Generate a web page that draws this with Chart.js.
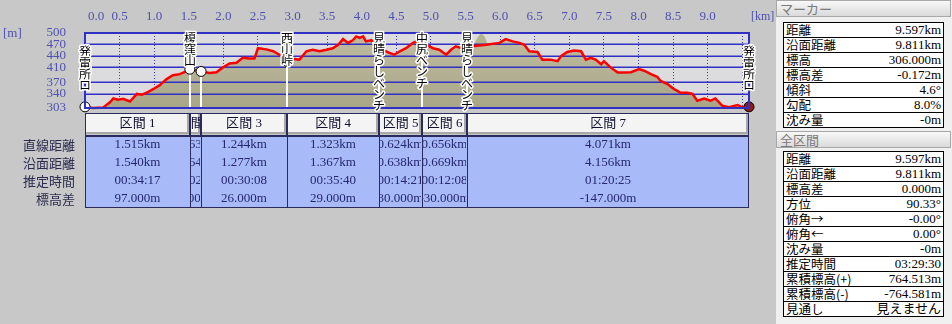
<!DOCTYPE html>
<html>
<head>
<meta charset="utf-8">
<script src="https://cdn.jsdelivr.net/npm/chart.js@4.4.0/dist/chart.umd.min.js"></script>
<style>
  body { margin: 0; width: 952px; height: 324px; overflow: hidden; position: relative; background: #c8c8c8; }
  #wrap { position: absolute; left: 0; top: 0; width: 776px; height: 324px; }
  #panel { position: absolute; left: 776px; top: 0; width: 176px; height: 324px; background: #f0f0f0; }
  .hd { position: absolute; left: 0; width: 175px; height: 17px; box-sizing: border-box; border: 1px solid #a8a8a8;
        background: linear-gradient(#f8f8f8, #dadada); color: #7a7a7a; font: 13px "Noto Sans CJK JP"; line-height: 15px; padding-left: 3px; }
  table { position: absolute; left: 7px; width: 161px; border-collapse: collapse; background: #fff;
          font: 13px "Liberation Serif", "Noto Sans CJK JP", serif; color: #000; }
  td { border-top: 1px solid #000; border-bottom: 1px solid #000; padding: 0 2px; white-space: nowrap; height: 14px; line-height: 14px; }
  td.l { border-left: 1px solid #000; font-family: "Noto Sans CJK JP"; font-size: 12.5px; }
  td.v { border-right: 1px solid #000; text-align: right; }
</style>
</head>
<body>
<div id="wrap"><canvas id="c" width="776" height="324"></canvas></div>
<div id="panel">
  <div class="hd" style="top:0">マーカー</div>
  <table id="t1" style="top:22px"></table>
  <div class="hd" style="top:131px">全区間</div>
  <table id="t2" style="top:151px"></table>
</div>
<script>
// profile (km along route, elevation m)
const distKm = [0,0.05,0.12,0.26,0.36,0.41,0.48,0.55,0.65,0.75,0.82,0.89,0.99,1.08,1.18,1.27,1.37,1.47,1.515,1.59,
  1.678,1.80,1.90,1.99,2.09,2.19,2.28,2.38,2.45,2.50,2.62,2.72,2.81,2.922,3.01,3.10,3.20,3.29,3.39,3.49,
  3.58,3.66,3.73,3.80,3.87,3.92,3.97,4.02,4.06,4.14,4.245,4.30,4.40,4.47,4.55,4.64,4.74,4.869,4.93,5.03,
  5.12,5.22,5.29,5.36,5.525,5.60,5.80,5.99,6.08,6.18,6.28,6.35,6.42,6.54,6.61,6.73,6.83,6.88,6.97,7.07,
  7.17,7.24,7.31,7.38,7.46,7.50,7.60,7.70,7.79,7.89,8.01,8.08,8.18,8.27,8.32,8.42,8.51,8.61,8.71,8.78,
  8.85,8.95,9.04,9.11,9.21,9.31,9.43,9.50,9.597];
const elevM = [306,304,303,304,318,328,325,327,320,340,338,343,353,363,379,389,392,400,405,402,
  399,395,397,409,420,422,435,433,433,460,457,452,443,426,432,430,452,456,452,456,
  460,469,484,474,481,491,487,491,478,481,455,456,448,443,452,460,474,484,469,460,
  456,443,456,465,455,465,469,474,484,478,474,469,452,450,430,430,426,439,450,454,
  452,430,435,430,418,426,409,396,396,397,405,401,392,385,374,366,353,343,343,340,
  322,328,322,328,309,305,311,305,306];
// terrain hump showing behind the route near 5.7 km
const humpKm = [5.62,5.68,5.72,5.77,5.82];
const humpM = [467,490,497,492,469];

// waypoints
const wpKm = [0,1.515,1.678,2.922,4.245,4.869,5.525,9.597];
const wpElev = [306,405,399,426,455,484,455,306];
const wpName = ['発電所ロ','榎窪山','','西山峠','見晴らしベンチ','中尻ベンチ','見晴らしベンチ','発電所ロ'];

// axes
const xTicks = [0,0.5,1,1.5,2,2.5,3,3.5,4,4.5,5,5.5,6,6.5,7,7.5,8,8.5,9,9.5];
const xTickLabels = ['0.0','0.5','1.0','1.5','2.0','2.5','3.0','3.5','4.0','4.5','5.0','5.5','6.0','6.5','7.0','7.5','8.0','8.5','9.0',''];
const yTicks = [500,470,440,410,370,340,303];

// section table
const rowLabels = ['直線距離','沿面距離','推定時間','標高差'];
const secName = ['区間 1','区間 2','区間 3','区間 4','区間 5','区間 6','区間 7'];
const secStraight = ['1.515km','0.163km','1.244km','1.323km','0.624km','0.656km','4.071km'];
const secSurface = ['1.540km','0.164km','1.277km','1.367km','0.638km','0.669km','4.156km'];
const secTime = ['00:34:17','00:02:31','00:30:08','00:35:40','00:14:21','00:12:08','01:20:25'];
const secElev = ['97.000m','-5.000m','26.000m','29.000m','30.000m','-30.000m','-147.000m'];

// side panel
const markerLabels = ['距離','沿面距離','標高','標高差','傾斜','勾配','沈み量'];
const markerValues = ['9.597km','9.811km','306.000m','-0.172m','4.6°','8.0%','-0m'];
const totalLabels = ['距離','沿面距離','標高差','方位','俯角→','俯角←','沈み量','推定時間','累積標高(+)','累積標高(-)','見通し'];
const totalValues = ['9.597km','9.811km','0.000m','90.33°','-0.00°','0.00°','-0m','03:29:30','764.513m','-764.581m','見えません'];

function fillTable(id, labels, values) {
  const t = document.getElementById(id);
  labels.forEach((l, i) => {
    const tr = t.insertRow();
    const a = tr.insertCell(); a.className = 'l'; a.textContent = l;
    const b = tr.insertCell(); b.className = 'v'; b.textContent = values[i];
  });
}
fillTable('t1', markerLabels, markerValues);
fillTable('t2', totalLabels, totalValues);

const BLUE = '#3030c4';
const LBL = '#5050b0';
const NUMFONT = '13px "Liberation Serif", "Noto Sans CJK JP", serif';

const route = distKm.map((d, i) => ({ x: d, y: elevM[i] }));

const profilePlugin = {
  id: 'profile',
  beforeDraw(chart) {
    const { ctx, chartArea: a } = chart;
    ctx.save();
    ctx.fillStyle = '#dcdcde';
    ctx.fillRect(a.left, a.top, a.right - a.left, a.bottom - a.top);
    ctx.restore();
  },
  afterDatasetDraw(chart, args) {
    if (args.index !== 2) return;
    const { ctx, chartArea: a, scales } = chart;
    ctx.save();
    // horizontal grid sits on top of the ground fill
    ctx.strokeStyle = BLUE;
    ctx.lineWidth = 1.5;
    yTicks.forEach(v => {
      const y = Math.round(scales.y.getPixelForValue(v)) + 0.25;
      ctx.beginPath(); ctx.moveTo(a.left, y); ctx.lineTo(a.right, y); ctx.stroke();
    });
    // waypoint poles
    ctx.strokeStyle = '#ffffff';
    ctx.lineWidth = 2;
    for (let i = 1; i < wpKm.length - 1; i++) {
      const x = Math.round(scales.x.getPixelForValue(wpKm[i]));
      ctx.beginPath(); ctx.moveTo(x, scales.y.getPixelForValue(wpElev[i])); ctx.lineTo(x, a.bottom); ctx.stroke();
    }
    ctx.restore();
  },
  afterDraw(chart) {
    const { ctx, chartArea: a, scales } = chart;
    const xs = scales.x;
    ctx.save();
    // frame
    ctx.strokeStyle = BLUE;
    ctx.lineWidth = 2;
    ctx.strokeRect(a.left, a.top, a.right - a.left, a.bottom - a.top);

    // x tick labels along the top, kept inside the frame
    ctx.font = NUMFONT;
    ctx.fillStyle = LBL;
    ctx.textBaseline = 'middle';
    ctx.textAlign = 'center';
    xTicks.forEach((v, i) => {
      const t = xTickLabels[i];
      if (!t) return;
      const w = ctx.measureText(t).width;
      const px = Math.max(xs.getPixelForValue(v), a.left + 3 + w / 2);
      ctx.fillText(t, px, 17);
    });
    ctx.textAlign = 'left';
    ctx.fillText('[m]', 3, a.top + 1);
    ctx.font = '12px "Liberation Serif", serif';
    ctx.fillText('[km]', a.right + 2, 17);

    // section table under the profile
    const tTop = a.bottom + 5, hH = 22, dTop = tTop + 23, rowH = 18, dBot = dTop + 72;
    const bx = wpKm.map(d => Math.round(xs.getPixelForValue(d)));
    ctx.fillStyle = '#a9baf8';
    ctx.fillRect(bx[0], dTop, bx[bx.length - 1] - bx[0], dBot - dTop);
    const cols = [secStraight, secSurface, secTime, secElev];
    for (let i = 0; i < secName.length; i++) {
      const x0 = bx[i], x1 = bx[i + 1], w = x1 - x0;
      // header button
      ctx.fillStyle = '#f4f4f4';
      ctx.fillRect(x0 + 1, tTop + 1, w - 2, hH - 2);
      ctx.fillStyle = '#a8a8a8';
      ctx.fillRect(x0 + 1, tTop + hH - 3, w - 2, 2);
      ctx.fillRect(x1 - 3, tTop + 1, 2, hH - 2);
      ctx.strokeStyle = '#2a2a5c';
      ctx.lineWidth = 1;
      ctx.strokeRect(x0 + 0.5, tTop + 0.5, w - 1, hH);
      ctx.save();
      ctx.beginPath(); ctx.rect(x0 + 1, tTop, w - 2, dBot - tTop); ctx.clip();
      ctx.textAlign = 'center';
      ctx.fillStyle = '#101030';
      ctx.font = '13px "Liberation Serif", "Noto Sans CJK JP", serif';
      ctx.fillText(secName[i], (x0 + x1) / 2, tTop + hH / 2);
      ctx.fillStyle = '#262670';
      cols.forEach((c, r) => ctx.fillText(c[i], (x0 + x1) / 2, dTop + 9 + r * rowH));
      ctx.restore();
      // column rule in the data area
      ctx.strokeStyle = '#2a2a5c';
      ctx.beginPath(); ctx.moveTo(x0 + 0.5, dTop); ctx.lineTo(x0 + 0.5, dBot); ctx.stroke();
    }
    ctx.strokeStyle = '#2a2a5c';
    ctx.strokeRect(bx[0] + 0.5, dTop + 0.5, bx[bx.length - 1] - bx[0] - 1, dBot - dTop - 1);
    ctx.textAlign = 'right';
    ctx.fillStyle = '#2c2c50';
    ctx.font = '13px "Noto Sans CJK JP"';
    rowLabels.forEach((l, r) => ctx.fillText(l, a.left - 10, dTop + 9 + r * rowH));

    // waypoint names, written vertically
    ctx.font = '12px "Noto Sans CJK JP"';
    ctx.textAlign = 'center';
    ctx.textBaseline = 'top';
    ctx.lineJoin = 'round';
    const step = 11.3;
    wpName.forEach((name, i) => {
      if (!name) return;
      const chars = Array.from(name);
      const px = Math.round(xs.getPixelForValue(wpKm[i]));
      const py = scales.y.getPixelForValue(wpElev[i]);
      const top = Math.max(a.top - 1, py - chars.length * step - 16);
      chars.forEach((ch, k) => {
        const y = top + k * step;
        ctx.strokeStyle = '#ffffff'; ctx.lineWidth = 3;
        ctx.strokeText(ch, px, y);
        ctx.fillStyle = '#000000';
        ctx.fillText(ch, px, y);
      });
    });
    ctx.restore();
  }
};

new Chart(document.getElementById('c'), {
  type: 'line',
  data: {
    datasets: [
      {
        data: wpKm.map((d, i) => ({ x: d, y: wpElev[i] })),
        showLine: false,
        pointRadius: 5,
        pointBackgroundColor: c => c.dataIndex === wpKm.length - 1 ? '#8c1c1c' : '#ffffff',
        pointBorderColor: '#000000',
        pointBorderWidth: 1,
        clip: false
      },
      {
        data: route,
        borderColor: '#ff0000',
        borderWidth: 2.5,
        pointRadius: 0,
        fill: false,
        clip: 4
      },
      {
        data: route,
        borderWidth: 0,
        pointRadius: 0,
        fill: 'start',
        backgroundColor: c => {
          const a = c.chart.chartArea;
          if (!a) return '#b4b092';
          const g = c.chart.ctx.createLinearGradient(0, a.top, 0, a.bottom);
          g.addColorStop(0, '#c0bca0');
          g.addColorStop(1, '#a9a688');
          return g;
        }
      },
      {
        data: humpKm.map((d, i) => ({ x: d, y: humpM[i] })),
        borderWidth: 0,
        pointRadius: 0,
        tension: 0.4,
        fill: 'start',
        backgroundColor: '#b2b48e'
      }
    ]
  },
  options: {
    responsive: false,
    animation: false,
    events: [],
    layout: { padding: { left: 0, top: 0, right: 27, bottom: 216 } },
    plugins: { legend: { display: false }, tooltip: { enabled: false } },
    scales: {
      x: {
        type: 'linear',
        position: 'top',
        min: 0,
        max: 9.597,
        afterBuildTicks: s => { s.ticks = xTicks.map(v => ({ value: v })); },
        afterFit: s => { s.height = 33; },
        ticks: { display: false },
        grid: { color: '#3838c8', lineWidth: 1, drawTicks: false },
        border: { display: false, dash: [1, 2] }
      },
      y: {
        min: 303,
        max: 500,
        afterBuildTicks: s => { s.ticks = yTicks.map(v => ({ value: v })); },
        afterFit: s => { s.width = 85; },
        ticks: { color: LBL, autoSkip: false, font: { family: '"Liberation Serif", serif', size: 13 }, padding: 11 },
        grid: { display: false },
        border: { display: false }
      }
    }
  },
  plugins: [profilePlugin]
});
</script>
</body>
</html>
